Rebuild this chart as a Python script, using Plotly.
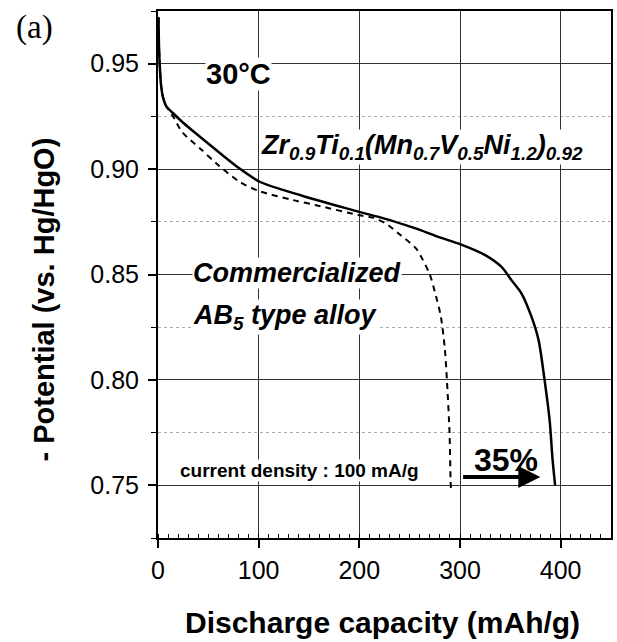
import plotly.graph_objects as go

# Discharge curves at 30 °C, current density 100 mA/g
zr_capacity = [0.5, 1, 2, 3, 5, 8, 15, 25, 42, 62, 81, 101, 125, 147, 175, 200, 225, 246,
               260, 280, 300, 325, 341, 351, 361, 371, 378, 384, 389, 392, 394.5]
zr_potential = [0.972, 0.958, 0.947, 0.940, 0.934, 0.930, 0.9265, 0.922, 0.9152, 0.9074,
                0.9003, 0.894, 0.890, 0.8868, 0.883, 0.8797, 0.8765, 0.8734, 0.8712, 0.8676,
                0.8644, 0.8592, 0.8537, 0.8474, 0.8411, 0.830, 0.819, 0.800, 0.781, 0.762, 0.750]

ab5_capacity = [0.5, 1, 2, 3, 5, 8, 15, 24, 42, 58, 81, 101, 134, 157, 200, 213, 226, 239,
                256, 263, 270, 276, 281, 285, 287, 289.6, 290.6, 291]
ab5_potential = [0.972, 0.958, 0.947, 0.940, 0.934, 0.930, 0.925, 0.9176, 0.9097, 0.9027,
                 0.894, 0.8895, 0.8853, 0.8829, 0.8781, 0.877, 0.8743, 0.8694, 0.8625, 0.857,
                 0.850, 0.840, 0.830, 0.8143, 0.800, 0.7748, 0.753, 0.748]

x_ticks = [0, 100, 200, 300, 400]
y_ticks = [0.75, 0.80, 0.85, 0.90, 0.95]
y_tick_text = ["0.75", "0.80", "0.85", "0.90", "0.95"]

SANS = "Liberation Sans, Arial, sans-serif"
SERIF = "Liberation Serif, Times New Roman, serif"

fig = go.Figure()
fig.add_trace(go.Scatter(x=ab5_capacity, y=ab5_potential, mode="lines",
                         line=dict(color="black", width=2, dash="6px,5px",
                                   shape="spline", smoothing=0.8),
                         showlegend=False))
fig.add_trace(go.Scatter(x=zr_capacity, y=zr_potential, mode="lines",
                         line=dict(color="black", width=2.5, shape="spline", smoothing=0.8),
                         showlegend=False))

fig.update_xaxes(range=[0, 450], tickvals=x_ticks, ticks="outside", ticklen=8,
                 tickwidth=1.5, tickcolor="black", showline=True, linecolor="black",
                 linewidth=2, mirror=True, showgrid=True, gridcolor="#333",
                 gridwidth=1, zeroline=False, ticklabelstandoff=1,
                 tickfont=dict(family=SANS, size=25, color="black"),
                 minor=dict(dtick=10, ticks="inside", ticklen=4, tickwidth=1,
                            tickcolor="black", showgrid=False))
fig.update_yaxes(range=[0.725, 0.975], tickvals=y_ticks, ticktext=y_tick_text,
                 ticks="outside", ticklen=8, tickwidth=1.5, tickcolor="black",
                 showline=True, linecolor="black", linewidth=2, mirror=True,
                 showgrid=True, gridcolor="#333", gridwidth=1, zeroline=False,
                 ticklabelstandoff=4,
                 tickfont=dict(family=SANS, size=25, color="black"),
                 minor=dict(tickvals=[0.725, 0.775, 0.825, 0.875, 0.925, 0.975],
                            ticks="outside", ticklen=5, tickwidth=1, tickcolor="black",
                            showgrid=True, gridcolor="#aaa", griddash="dot", gridwidth=1))

annotations = [
    dict(text="(a)", xref="paper", yref="paper", x=-0.2725, y=0.9696,
         xanchor="center", yanchor="middle", showarrow=False,
         font=dict(family=SERIF, size=33, color="black")),
    dict(text="<b>30°C</b>", x=80.1, y=0.9451, xanchor="center", yanchor="middle",
         showarrow=False, bgcolor="white", borderpad=0,
         font=dict(family=SANS, size=29, color="black")),
    dict(text="<b><i>Zr<sub>0.9</sub>Ti<sub>0.1</sub>(Mn<sub>0.7</sub>V<sub>0.5</sub>"
              "Ni<sub>1.2</sub>)<sub>0.92</sub></i></b>",
         x=100.9, y=0.9105, xanchor="left", yanchor="middle", showarrow=False,
         bgcolor="white", borderpad=0,
         font=dict(family=SANS, size=27, color="black")),
    dict(text="<b><i>Commercialized</i></b>", x=33.6, y=0.8505, xanchor="left",
         yanchor="middle", showarrow=False, bgcolor="white", borderpad=0,
         font=dict(family=SANS, size=27, color="black")),
    dict(text="<b><i>AB<sub>5</sub> type alloy</i></b>", x=33.6, y=0.8298,
         xanchor="left", yanchor="middle", showarrow=False, bgcolor="white",
         borderpad=0, font=dict(family=SANS, size=27, color="black")),
    dict(text="<b>current density : 100 mA/g</b>", x=20.8, y=0.7572, xanchor="left",
         yanchor="middle", showarrow=False, bgcolor="white", borderpad=0,
         font=dict(family=SANS, size=19, color="black")),
    dict(text="<b>35%</b>", x=345.6, y=0.7618, xanchor="center", yanchor="middle",
         showarrow=False, font=dict(family=SANS, size=32, color="black")),
    # capacity gain arrow
    dict(text="", x=379.8, y=0.7539, ax=301.6, ay=0.7539, axref="x", ayref="y",
         showarrow=True, arrowhead=2, arrowsize=1.1, arrowwidth=4, arrowcolor="black"),
    dict(text="<b>- Potential (vs. Hg/HgO)</b>", xref="paper", yref="paper",
         x=-0.2527, y=0.4516, xanchor="center", yanchor="middle", textangle=-90,
         showarrow=False, font=dict(family=SANS, size=29, color="black")),
    dict(text="<b>Discharge capacity (mAh/g)</b>", xref="paper", yref="paper",
         x=0.4956, y=-0.1594, xanchor="center", yanchor="middle", showarrow=False,
         font=dict(family=SANS, size=30, color="black")),
]

fig.update_layout(width=617, height=642, margin=dict(l=158, r=4, t=11, b=104),
                  plot_bgcolor="white", paper_bgcolor="white",
                  annotations=annotations)

fig.write_html("out.html")
